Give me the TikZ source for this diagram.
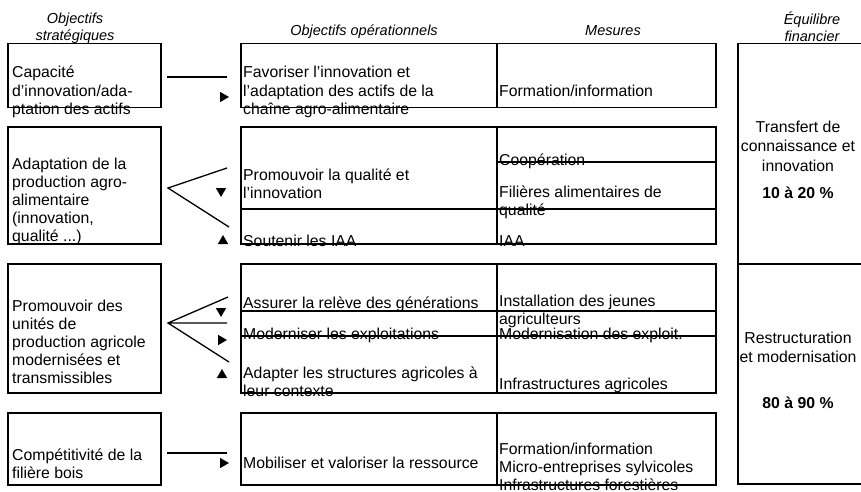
\documentclass[tikz,border=0pt]{standalone}
\usepackage{fontspec}
\setmainfont{Liberation Sans}
\usetikzlibrary{shapes.geometric}

\begin{document}
\begin{tikzpicture}[x=1pt,y=-1pt,every node/.style={inner sep=0pt},
	cadre/.style={draw,line width=1.5pt,anchor=north west},
	entete/.style={font=\fontsize{14.5}{17}\selectfont\itshape,align=center,anchor=base},
	texte/.style={font=\fontsize{15.8}{18}\selectfont,align=left,anchor=base west},
	budget/.style={font=\fontsize{15.8}{19.5}\selectfont,align=center,anchor=base},
	trait/.style={line width=1.3pt},
	pointe/.style={regular polygon,regular polygon sides=3,fill,minimum size=12pt}
	]
	\useasboundingbox (0,0) rectangle (861,492);
	\clip (0,0) rectangle (861,492);
	\node[entete] (hstrat) at (75,41) {Objectifs\\strat\'egiques};
	\node[entete] (hoper) at (364,36) {Objectifs op\'erationnels};
	\node[entete] (hmes) at (613,36) {Mesures};
	\node[entete] (hfin) at (812,42) {\'Equilibre\\financier};
	\node[cadre,minimum width=153,minimum height=64] (strat1) at (7,43) {};
	\node[cadre,minimum width=153,minimum height=117] (strat2) at (7,126) {};
	\node[cadre,minimum width=153,minimum height=129] (strat3) at (7,263) {};
	\node[cadre,minimum width=153,minimum height=72] (strat4) at (7,412) {};
	\node[cadre,minimum width=256,minimum height=64] (oper1) at (240,43) {};
	\node[cadre,minimum width=219,minimum height=64] (mes1) at (496,43) {};
	\node[cadre,minimum width=256,minimum height=82] (oper2a) at (240,126) {};
	\node[cadre,minimum width=256,minimum height=35] (oper2b) at (240,208) {};
	\node[cadre,minimum width=219,minimum height=35] (mes2a) at (496,126) {};
	\node[cadre,minimum width=219,minimum height=47] (mes2b) at (496,161) {};
	\node[cadre,minimum width=219,minimum height=35] (mes2c) at (496,208) {};
	\node[cadre,minimum width=256,minimum height=47] (oper3a) at (240,263) {};
	\node[cadre,minimum width=256,minimum height=25] (oper3b) at (240,310) {};
	\node[cadre,minimum width=256,minimum height=57] (oper3c) at (240,335) {};
	\node[cadre,minimum width=219,minimum height=47] (mes3a) at (496,263) {};
	\node[cadre,minimum width=219,minimum height=25] (mes3b) at (496,310) {};
	\node[cadre,minimum width=219,minimum height=57] (mes3c) at (496,335) {};
	\node[cadre,minimum width=256,minimum height=72] (oper4) at (240,412) {};
	\node[cadre,minimum width=219,minimum height=72] (mes4) at (496,412) {};
	\node[cadre,minimum width=150,minimum height=220] (fin1) at (737,43) {};
	\node[cadre,minimum width=150,minimum height=220] (fin2) at (737,263) {};
	\node[texte] (tstrat1) at (12,114) {Capacit\'e\\d'innovation/ada-\\ptation des actifs};
	\node[texte] (tstrat2) at (12,241.5) {Adaptation de la\\production agro-\\alimentaire\\(innovation,\\qualit\'e ...)};
	\node[texte] (tstrat3) at (12,383) {Promouvoir des\\unit\'es de\\production agricole\\modernis\'ees et\\transmissibles};
	\node[texte] (tstrat4) at (12,478) {Comp\'etitivit\'e de la\\fili\`ere bois};
	\node[texte] (toper1) at (243,114) {Favoriser l'innovation et\\l'adaptation des actifs de la\\cha\^ine agro-alimentaire};
	\node[texte] (toper2a) at (243,198) {Promouvoir la qualit\'e et\\l'innovation};
	\node[texte] (toper2b) at (243,246) {Soutenir les IAA};
	\node[texte] (toper3a) at (243,308) {Assurer la rel\`eve des g\'en\'erations};
	\node[texte] (toper3b) at (243,339) {Moderniser les exploitations};
	\node[texte] (toper3c) at (243,396) {Adapter les structures agricoles \`a\\leur contexte};
	\node[texte] (toper4) at (243,468) {Mobiliser et valoriser la ressource};
	\node[texte] (tmes1) at (499,96) {Formation/information};
	\node[texte] (tmes2a) at (499,165) {Coop\'eration};
	\node[texte] (tmes2b) at (499,215) {Fili\`eres alimentaires de\\qualit\'e};
	\node[texte] (tmes2c) at (499,246) {IAA};
	\node[texte] (tmes3a) at (499,324) {Installation des jeunes\\agriculteurs};
	\node[texte] (tmes3b) at (499,339) {Modernisation des exploit.};
	\node[texte] (tmes3c) at (499,389) {Infrastructures agricoles};
	\node[texte] (tmes4) at (499,490) {Formation/information\\Micro-entreprises sylvicoles\\Infrastructures foresti\`eres};
	\node[budget] (tfin1) at (798,171) {Transfert de\\connaissance et\\innovation};
	\node[budget] (pfin1) at (798,198) {\textbf{10 \`a 20 \%}};
	\node[budget] (tfin2) at (798,362.5) {Restructuration\\et modernisation};
	\node[budget] (pfin2) at (798,408) {\textbf{80 \`a 90 \%}};
	\coordinate (d1) at (167,77);
	\coordinate (f1) at (227,77);
	\draw[trait] (d1) -- (f1);
	\node[pointe,rotate=-90] (p1) at (223,97) {};
	\coordinate (a2) at (168,188);
	\coordinate (h2) at (227,168);
	\coordinate (b2) at (229,227);
	\draw[trait] (h2) -- (a2) -- (b2);
	\node[pointe,rotate=180] (p2h) at (221,191) {};
	\node[pointe] (p2b) at (223,241) {};
	\coordinate (a3) at (168,323);
	\coordinate (h3) at (228,297);
	\coordinate (m3) at (227,323);
	\coordinate (b3) at (229,362);
	\draw[trait] (h3) -- (a3) -- (b3) (a3) -- (m3);
	\node[pointe,rotate=180] (p3h) at (221,311) {};
	\node[pointe,rotate=-90] (p3m) at (221,340) {};
	\node[pointe] (p3b) at (222,375) {};
	\coordinate (d4) at (167,453);
	\coordinate (f4) at (227,453);
	\draw[trait] (d4) -- (f4);
	\node[pointe,rotate=-90] (p4) at (223,463) {};
\end{tikzpicture}
\end{document}
